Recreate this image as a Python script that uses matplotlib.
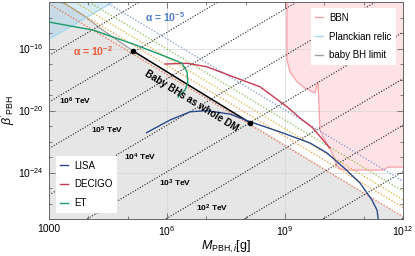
import numpy as np
import matplotlib
matplotlib.use("Agg")
import matplotlib.pyplot as plt
from matplotlib.lines import Line2D
from matplotlib.ticker import NullFormatter

plt.rcParams["font.family"] = ["Liberation Sans", "DejaVu Sans"]
plt.rcParams["mathtext.fontset"] = "custom"
plt.rcParams["mathtext.rm"] = "Liberation Sans"
plt.rcParams["mathtext.it"] = "Liberation Sans:italic"
plt.rcParams["mathtext.bf"] = "Liberation Sans:bold"

# all values below are log10(M / g) and log10(beta')

# baby BH limit (edge of the gray region)
lim_logM = [3.0, 3.23, 3.43, 3.86, 4.30, 4.81, 5.14, 12.0]
lim_logb = [-12.81, -12.94, -13.13, -13.84, -14.68, -15.58, -16.16, -26.85]

# Planckian relic line
planck_logM = [3.0, 4.63]
planck_logb = [-15.39, -13.0]

# BBN bound
bbn_logM = [9.05, 9.05, 9.13, 9.31, 9.51, 9.76, 9.84, 9.89, 9.97, 10.20,
            10.32, 10.40, 10.53, 11.49, 11.62, 12.0]
bbn_logb = [-12.9, -16.74, -17.52, -18.16, -18.55, -18.87, -18.16, -21.26,
            -21.71, -22.74, -23.58, -23.75, -23.84, -23.84, -23.65, -23.65]

# alpha lines, value at M=1e3 g and at M=1e12 g
alpha_b3 = [-13.1, -12.5, -12.0, -11.45, -10.8]
alpha_b12 = [-26.85, -26.25, -25.75, -25.2, -24.55]
alpha_colors = ["#f26b4e", "#f39c2f", "#d6b52c", "#8dbb45", "#7596d6"]

# temperature lines beta' ~ M^(3/2), value at M=1e3 g
temp_b3 = [-16.45, -19.45, -22.45, -25.45, -28.45, -31.45, -34.45, -37.45, -40.45]
temp_labels = ["10$^{\\mathbf{6}}$ TeV", "10$^{\\mathbf{5}}$ TeV", "10$^{\\mathbf{4}}$ TeV",
               "10$^{\\mathbf{3}}$ TeV", "10$^{\\mathbf{2}}$ TeV"]
temp_label_logM = [3.66, 4.48, 5.31, 6.20, 7.14]
temp_label_logb = [-19.39, -21.26, -23.0, -24.68, -26.29]

# GW detector curves
lisa_logM = [5.48, 6.08, 6.59, 7.01, 7.60, 8.11, 8.95, 9.64, 10.07, 10.48,
             10.91, 11.21, 11.34, 11.37]
lisa_logb = [-21.43, -20.61, -20.08, -20.01, -20.23, -20.72, -21.45, -22.10,
             -22.74, -23.65, -24.68, -25.77, -26.42, -27.0]
decigo_logM = [5.95, 6.50, 7.01, 7.68, 8.36, 9.05, 9.38, 9.71, 10.14]
decigo_logb = [-17.0, -16.95, -17.17, -17.82, -18.46, -19.75, -20.48, -21.13, -22.42]
et_logM = [3.0, 4.12, 5.14, 6.0, 6.38, 6.51, 6.53, 6.46, 6.28]
et_logb = [-14.29, -14.81, -15.71, -16.55, -16.94, -17.52, -18.23, -18.68, -19.13]

# "baby BHs as whole DM" end points
dot_logM = [5.14, 8.11]
dot_logb = [-16.16, -20.79]

fig = plt.figure(figsize=(4.15, 2.56), dpi=100)
ax = fig.add_axes([0.118, 0.1445, 0.853, 0.8475])

p = lambda v: 10.0 ** np.asarray(v)

# gray region below the baby BH limit
ax.fill_between(p(lim_logM), 1e-30, p(lim_logb), color="#e6e6e6", lw=0, zorder=1)
ax.plot(p(lim_logM[:7]), p(lim_logb[:7]), color="#a0a0a0", lw=0.9, zorder=2)

# Planckian relic region
ax.fill_between(p(planck_logM), p(planck_logb), 1e-12, color="#8fcbea",
                alpha=0.35, lw=0, zorder=1.2)
ax.plot(p(planck_logM), p(planck_logb), color="#a5d8ef", lw=0.9, zorder=2)

# BBN region
bx = list(bbn_logM) + [12.5, 12.5]
by = list(bbn_logb) + [bbn_logb[-1], -12.9]
ax.fill(p(bx), p(by), color="#ffe2e5", lw=0, zorder=1.1)
ax.plot(p(bbn_logM), p(bbn_logb), color="#f6a0a8", lw=0.9, zorder=2)

# temperature lines
mm = np.array([3.0, 12.0])
for c in temp_b3:
    ax.plot(p(mm), p(c + 1.5 * (mm - 3.0)), color="#222222", lw=0.8,
            ls=(0, (1, 1.5)), zorder=2.2)
for lab, xm, yb in zip(temp_labels, temp_label_logM, temp_label_logb):
    ax.text(p(xm), p(yb), lab, fontsize=6, fontweight="bold", ha="center",
            va="center", zorder=4)

# alpha lines
for b0, b1, col in zip(alpha_b3, alpha_b12, alpha_colors):
    ax.plot(p(mm), p([b0, b1]), color=col, lw=0.9, ls=(0, (1, 1.5)), zorder=2.4)

# solid part of the limit: baby BHs as whole DM
ax.plot(p(dot_logM), p(dot_logb), color="black", lw=1.1, zorder=3)
ax.plot(p(dot_logM), p(dot_logb), "o", color="black", ms=3, zorder=4)

# detector curves
ax.plot(p(lisa_logM), p(lisa_logb), color="#2b4a8b", lw=1.0, zorder=3)
ax.plot(p(decigo_logM), p(decigo_logb), color="#c73a52", lw=1.0, zorder=3)
ax.plot(p(et_logM), p(et_logb), color="#1b9a6c", lw=1.0, zorder=3)

# annotations
ax.text(p(5.95), p(-13.97), "\u03b1 = 10$^{\\mathbf{-5}}$", color="#4f7cc4",
        fontsize=7.5, fontweight="bold", ha="center", va="center", zorder=4)
ax.text(p(4.12), p(-16.16), "\u03b1 = 10$^{\\mathbf{-2}}$", color="#ec5a3c",
        fontsize=7.5, fontweight="bold", ha="center", va="center", zorder=4)
ax.text(p(6.62), p(-19.35), "Baby BHs as whole DM", fontsize=7,
        fontweight="bold", ha="center", va="center", rotation=-31.6, zorder=4)

ax.set_xscale("log")
ax.set_yscale("log")
ax.set_xlim(1e3, 1e12)
ax.set_ylim(1e-27, 1e-13)
ax.set_xticks([1e3, 1e6, 1e9, 1e12])
ax.set_xticklabels(["1000", "$10^{6}$", "$10^{9}$", "$10^{12}$"])
ax.set_xticks([10.0 ** k for k in range(3, 13)], minor=True)
ax.set_yticks([1e-24, 1e-20, 1e-16])
ax.set_yticklabels(["$10^{-24}$", "$10^{-20}$", "$10^{-16}$"])
ax.set_yticks([10.0 ** k for k in range(-27, -12)], minor=True)
ax.xaxis.set_minor_formatter(NullFormatter())
ax.yaxis.set_minor_formatter(NullFormatter())
ax.tick_params(which="both", direction="in", top=True, right=True,
               labelsize=7.5, color="#666666", width=0.6)
ax.tick_params(which="major", length=4)
ax.tick_params(which="minor", length=2)
for s in ax.spines.values():
    s.set_color("#666666")
    s.set_linewidth(0.7)
ax.set_axisbelow("line")
ax.grid(which="major", color="#d4d4d4", lw=0.5)

ax.set_xlabel(r"$M_{\rm PBH,\mathit{i}}$[g]", fontsize=9, labelpad=1)
ax.set_ylabel(r"$\beta'_{\rm PBH}$", fontsize=9, labelpad=1)

h1 = [Line2D([], [], color=c, lw=1) for c in ["#f6a0a8", "#a5d8ef", "#a0a0a0"]]
leg1 = ax.legend(h1, ["BBN", "Planckian relic", "baby BH limit"], loc="upper right",
                 bbox_to_anchor=(0.995, 0.995), fontsize=7, handlelength=0.8,
                 handletextpad=0.6, labelspacing=0.9, framealpha=1,
                 edgecolor="none", fancybox=False, borderpad=0.5)
ax.add_artist(leg1)
h2 = [Line2D([], [], color=c, lw=1) for c in ["#2b4a8b", "#c73a52", "#1b9a6c"]]
ax.legend(h2, ["LISA", "DECIGO", "ET"], loc="lower left",
          bbox_to_anchor=(0.005, 0.005), fontsize=7, handlelength=0.8,
          handletextpad=0.6, labelspacing=0.9, framealpha=1,
          edgecolor="none", fancybox=False, borderpad=0.5)

fig.savefig("out.png", dpi=100)
